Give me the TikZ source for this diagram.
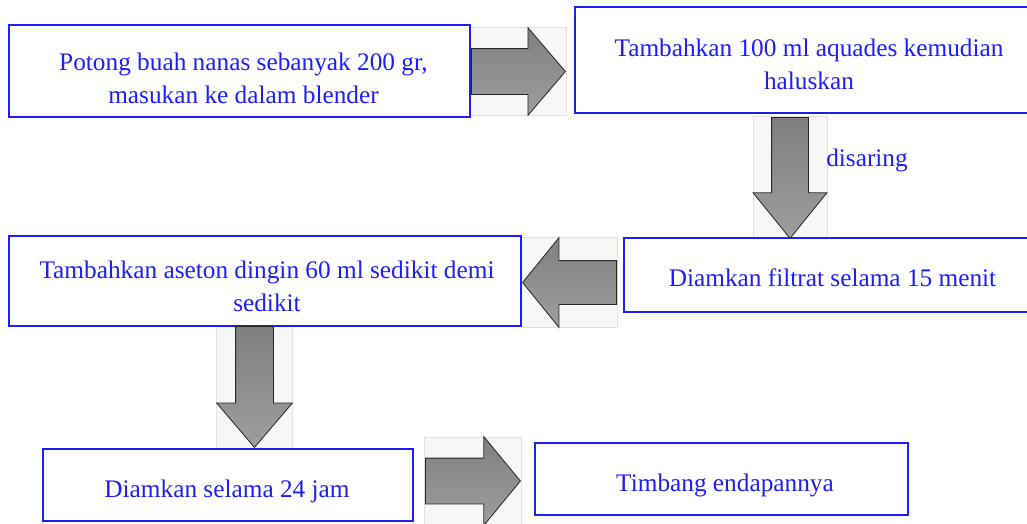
\documentclass[tikz,border=0pt]{standalone}
\usepackage{fontspec}
\setmainfont{Liberation Serif}
\usetikzlibrary{shapes.arrows,fit,backgrounds}
\definecolor{stepblue}{RGB}{30,30,250}

\begin{document}
\begin{tikzpicture}[
  x=1pt, y=-1pt,
  font=\rmfamily\fontsize{25.3}{33}\selectfont,
  every node/.style={align=center},
  %% ─── styles ────────────────────────────────────────────────
  stepbox/.style={
    draw=stepblue, fill=white, line width=1.6pt, inner sep=0pt},
  steptext/.style={
    text=stepblue, inner sep=0pt},
  blockarrow/.style={
    single arrow, single arrow head indent=0pt,
    draw=black!85, line width=0.8pt, top color=black!50, bottom color=black!38},
  arrowbg/.style={
    draw=black!12, fill=black!3, line width=0.6pt}
]
  \useasboundingbox (0,0) rectangle (1027,523);
  \clip (0,0) rectangle (1027,523);

  %% ─── 1. step boxes ─────────────────────────────────────────
  \node[stepbox, minimum width=461, minimum height=92] (potong)  at (239.5,71) {};
  \node[stepbox, minimum width=465, minimum height=106] (tambah) at (807.5,60) {};
  \node[stepbox, minimum width=416, minimum height=74] (filtrat) at (832,275) {};
  \node[stepbox, minimum width=512, minimum height=90] (aseton)  at (265,281) {};
  \node[stepbox, minimum width=370, minimum height=72] (diamkan) at (228,485) {};
  \node[stepbox, minimum width=373, minimum height=72] (timbang) at (721.5,479) {};

  %% ─── 2. texts ──────────────────────────────────────────────
  \node[steptext] (potongT)  at (243.5,78.5) {Potong buah nanas sebanyak 200 gr,\\masukan ke dalam blender};
  \node[steptext] (tambahT)  at (809,64.5)   {Tambahkan 100 ml aquades kemudian\\haluskan};
  \node[steptext] (filtratT) at (832.5,278)  {Diamkan filtrat selama 15 menit};
  \node[steptext] (asetonT)  at (267,286)    {Tambahkan aseton dingin 60 ml sedikit demi\\sedikit};
  \node[steptext] (diamkanT) at (227,491)    {Diamkan selama 24 jam};
  \node[steptext] (timbangT) at (725,485)    {Timbang endapannya};

  %% ─── 3. block arrows between the steps ─────────────────────
  \node[blockarrow, anchor=tail, minimum height=94, minimum width=87, inner xsep=0pt, inner ysep=22.5,
        single arrow head extend=21, single arrow tip angle=99] (a1) at (471,71.5) {};
  \node[blockarrow, anchor=tail, shape border rotate=270, minimum height=121, minimum width=73, inner ysep=0pt, inner xsep=18,
        single arrow head extend=18.5, single arrow tip angle=78] (a2) at (790,117) {};
  \node[blockarrow, anchor=tail, shape border rotate=180, minimum height=94, minimum width=89, inner xsep=0pt, inner ysep=21.5,
        single arrow head extend=23, single arrow tip angle=102] (a3) at (617,282.5) {};
  \node[blockarrow, anchor=tail, shape border rotate=270, minimum height=121, minimum width=75, inner ysep=0pt, inner xsep=18.5,
        single arrow head extend=19, single arrow tip angle=81] (a4) at (254.5,326) {};
  \node[blockarrow, anchor=tail, minimum height=95, minimum width=88, inner xsep=0pt, inner ysep=22.5,
        single arrow head extend=21.5, single arrow tip angle=101] (a5) at (425,481) {};

  \node[steptext] (saring) at (867,160) {disaring};

  %% ─── 4. light frames behind the arrows ─────────────────────
  \begin{scope}[on background layer]
    \foreach \a/\xs/\ys in {a1/0.5/44, a2/37/0.5, a3/0.5/45, a4/38/0.5, a5/0.5/44} {
      \node[arrowbg, inner xsep=\xs, inner ysep=\ys, fit=(\a.tip) (\a.tail)] (\a bg) {};
    }
  \end{scope}

\end{tikzpicture}
\end{document}
